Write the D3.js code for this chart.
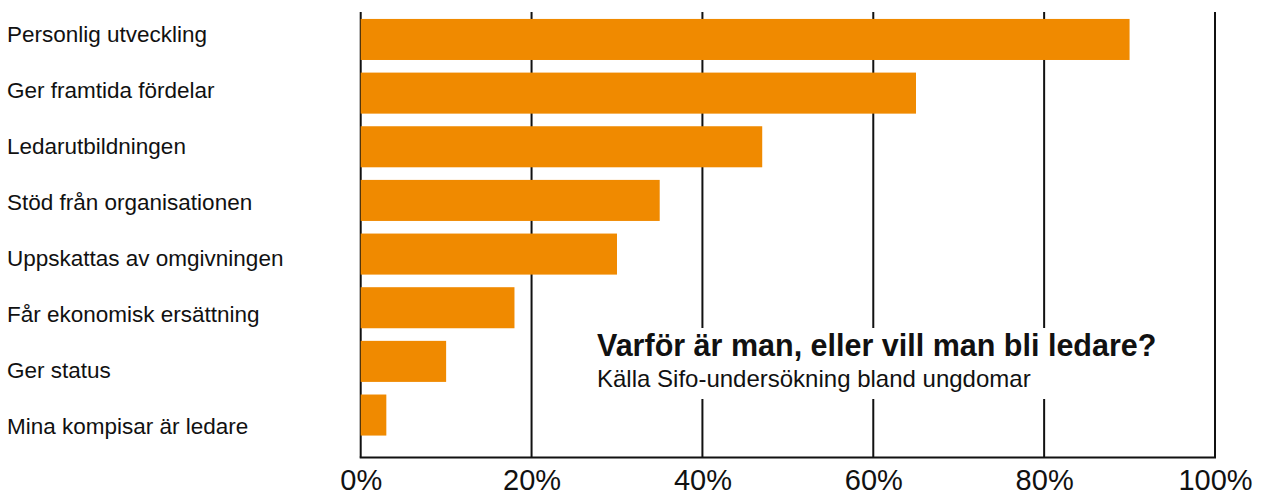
<!DOCTYPE html>
<html>
<head>
<meta charset="utf-8">
<script src="https://cdn.jsdelivr.net/npm/d3@7"></script>
<style>
  body { margin: 0; background: #fff; }
  #chart text { font-family: "Liberation Sans", Arial, sans-serif; fill: #111; }
</style>
</head>
<body>
<div id="chart"></div>
<script>
var categories = [
  "Personlig utveckling",
  "Ger framtida fördelar",
  "Ledarutbildningen",
  "Stöd från organisationen",
  "Uppskattas av omgivningen",
  "Får ekonomisk ersättning",
  "Ger status",
  "Mina kompisar är ledare"
];
var values = [90, 65, 47, 35, 30, 18, 10, 3];
var tickValues = [0, 20, 40, 60, 80, 100];
var title = "Varför är man, eller vill man bli ledare?";
var subtitle = "Källa Sifo-undersökning bland ungdomar";

var render = function() {
  let width = 1267, height = 496;
  d3.select("#chart").html("");

  let svg = d3.select("#chart")
    .append("svg")
    .attr("width", width)
    .attr("height", height);

  let x = d3.scaleLinear()
    .domain([0, 100])
    .range([360.7, 1215]);

  // bars and labels do not share the same spacing in the original
  let y = d3.scaleBand()
    .domain(categories)
    .range([12.5, 442])
    .paddingInner(0.235)
    .paddingOuter(0.12);

  let yLabel = d3.scalePoint()
    .domain(categories)
    .range([34, 426]);

  let grid = svg.append("g");
  grid.selectAll("line")
    .data(tickValues)
    .enter()
    .append("line")
    .attr("x1", (d) => x(d))
    .attr("x2", (d) => x(d))
    .attr("y1", 12)
    .attr("y2", 457.5)
    .attr("stroke", "#111")
    .attr("stroke-width", 2);

  grid.append("line")
    .attr("x1", x(0) - 1)
    .attr("x2", x(100) + 1)
    .attr("y1", 457.5)
    .attr("y2", 457.5)
    .attr("stroke", "#111")
    .attr("stroke-width", 2);

  svg.selectAll(".bar")
    .data(values)
    .enter()
    .append("rect")
    .attr("class", "bar")
    .attr("x", x(0))
    .attr("y", (d, i) => y(categories[i]))
    .attr("width", (d) => x(d) - x(0))
    .attr("height", y.bandwidth())
    .attr("fill", "#f08a00");

  svg.selectAll(".label")
    .data(categories)
    .enter()
    .append("text")
    .attr("class", "label")
    .attr("x", 7)
    .attr("y", (d) => yLabel(d))
    .attr("dy", "0.35em")
    .style("font-size", "22.5px")
    .text((d) => d);

  let axis = d3.axisBottom(x)
    .tickValues(tickValues)
    .tickSize(0)
    .tickPadding(0)
    .tickFormat((d) => d + "%");

  let ax = svg.append("g")
    .attr("transform", "translate(0,489.5)")
    .call(axis);
  ax.select(".domain").remove();
  ax.selectAll("text")
    .attr("dy", 0)
    .style("font-size", "29px")
    .style("font-family", "Liberation Sans, Arial, sans-serif")
    .attr("fill", "#111");

  // white box behind the title hides the grid lines
  svg.append("rect")
    .attr("x", 585)
    .attr("y", 328)
    .attr("width", 590)
    .attr("height", 71)
    .attr("fill", "#fff");

  svg.append("text")
    .attr("x", 597)
    .attr("y", 356)
    .style("font-size", "30.5px")
    .style("font-weight", "bold")
    .text(title);

  svg.append("text")
    .attr("x", 597)
    .attr("y", 387)
    .style("font-size", "24px")
    .text(subtitle);
};

render();
</script>
</body>
</html>
